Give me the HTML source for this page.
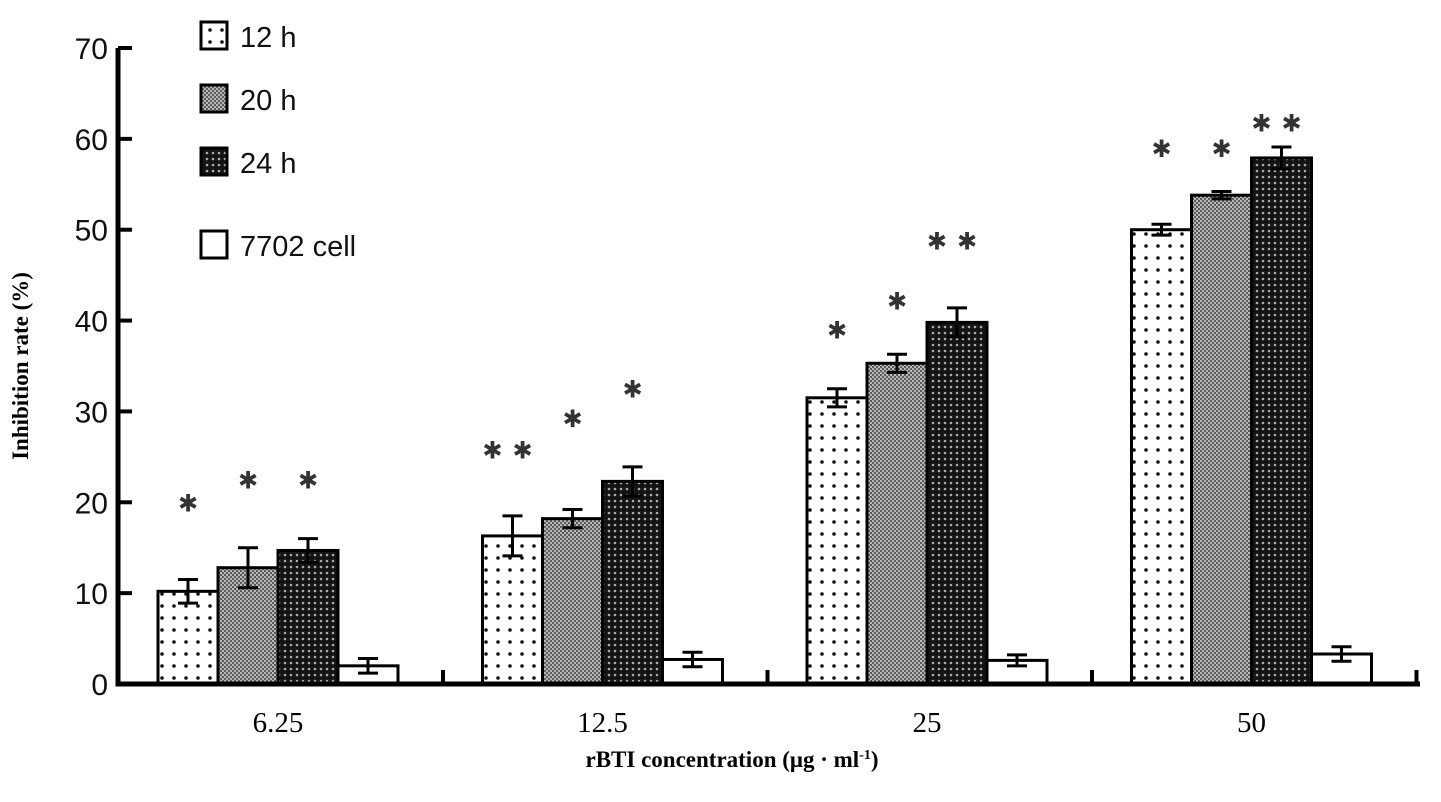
<!DOCTYPE html>
<html><head><meta charset="utf-8"><style>
html,body{margin:0;padding:0;background:#fff;}
svg{display:block;}
</style></head><body>
<svg id="chart" width="1441" height="802" viewBox="0 0 1441 802" xmlns="http://www.w3.org/2000/svg">
<defs>
<pattern id="p12" width="12" height="12" patternUnits="userSpaceOnUse"><rect width="12" height="12" fill="#fff"/><circle cx="6" cy="6" r="1.8" fill="#111"/></pattern>
<pattern id="p20" width="4" height="4" patternUnits="userSpaceOnUse"><rect width="4" height="4" fill="#5a5a5a"/><rect width="2" height="2" fill="#b8b8b8"/><rect x="2" y="2" width="2" height="2" fill="#b8b8b8"/></pattern>
<pattern id="p24" width="6" height="6" patternUnits="userSpaceOnUse"><rect width="6" height="6" fill="#141414"/><circle cx="3" cy="3" r="1.3" fill="#aaa"/></pattern>
</defs>
<g id="plot"></g>
</svg>
<script>
const categories=["6.25","12.5","25","50"];
const seriesNames=["12 h","20 h","24 h","7702 cell"];
const s12=[10.2,16.3,31.5,50.0];
const s20=[12.8,18.2,35.3,53.8];
const s24=[14.7,22.3,39.8,57.9];
const s7702=[2.0,2.7,2.6,3.3];
const e12=[1.3,2.2,1.0,0.6];
const e20=[2.2,1.0,1.0,0.4];
const e24=[1.3,1.6,1.6,1.2];
const e7702=[0.8,0.8,0.6,0.8];
const starText=[["✱","✱","✱"],["✱✱","✱","✱"],["✱","✱","✱✱"],["✱","✱","✱✱"]];
const starValue=[[20,22.5,22.5],[25.8,29.3,32.5],[39,42.2,48.8],[59,59,61.8]];
const yTicks=[0,10,20,30,40,50,60,70];

const NS="http://www.w3.org/2000/svg";
const g=document.getElementById('plot');
const y0=684,yTop=48,yMax=70;
const y=v=>y0-(y0-yTop)*v/yMax;
const xL=118,xR=1420,groupW=324.5,barW=60;
const gx=i=>158+i*groupW;
const SANS='font-family:"Liberation Sans",sans-serif;';
const SERIF='font-family:"Liberation Serif",serif;';
function el(t,a,p){const e=document.createElementNS(NS,t);for(const k in a)e.setAttribute(k,a[k]);(p||g).appendChild(e);return e;}
const series=[s12,s20,s24,s7702],errs=[e12,e20,e24,e7702],fills=["url(#p12)","url(#p20)","url(#p24)","#fff"];
const keys=["12h","20h","24h","7702"];
for(let i=0;i<4;i++){
 for(let s=0;s<4;s++){
  const x=gx(i)+s*barW,v=series[s][i];
  const r=el('rect',{x:x,y:y(v),width:barW,height:y0-y(v),fill:fills[s],stroke:'#000','stroke-width':3});
  
  
  const cx=x+barW/2,eh=y(v+errs[s][i]),el2=y(v-errs[s][i]);
  const p=el('path',{d:`M${cx},${eh}V${el2}M${cx-10},${eh}H${cx+10}M${cx-10},${el2}H${cx+10}`,stroke:'#000','stroke-width':3,fill:'none'});
  
  
  if(s<3){
   const t=el('text',{x:cx,y:y(starValue[i][s])+9,'text-anchor':'middle','font-size':24,fill:'#333','letter-spacing':starText[i][s].length>1?10:0,style:'font-family:"DejaVu Sans",sans-serif;'});
   t.textContent=starText[i][s];
   
   
  }
 }
 const lt=el('text',{x:gx(i)+2*barW,y:732,'text-anchor':'middle','font-size':29,style:SERIF});
 lt.textContent=categories[i];
 
 
 const tx=gx(i)+285;
 const tk=el('line',{x1:tx,y1:y0,x2:tx,y2:y0-14,stroke:'#000','stroke-width':4});
 
 
}
const ax=el('path',{d:`M${xL},${yTop}V${y0}H${xR}`,stroke:'#000','stroke-width':5,fill:'none'});


yTicks.forEach(v=>{
 const l=el('line',{x1:xL,y1:y(v),x2:xL+14,y2:y(v),stroke:'#000','stroke-width':4});
 
 
 const t=el('text',{x:108,y:y(v)+11,'text-anchor':'end','font-size':30,fill:'#111',style:SANS});
 t.textContent=v;
 
 
});
const yt=el('text',{transform:'translate(28,366) rotate(-90)','text-anchor':'middle','font-size':23,'font-weight':'bold',style:SERIF});
yt.textContent='Inhibition rate (%)';


const xt=el('text',{x:732,y:767,'text-anchor':'middle','font-size':23,'font-weight':'bold',style:SERIF});
xt.innerHTML='rBTI concentration (μg · ml<tspan font-size="14" dy="-8">-1</tspan><tspan dy="8">)</tspan>';


const legY=[22,85,148,231];
for(let s=0;s<4;s++){
 const r=el('rect',{x:201,y:legY[s],width:26,height:27,fill:fills[s],stroke:'#000','stroke-width':3});
 
 
 const t=el('text',{x:240,y:legY[s]+25,'font-size':29,fill:'#111',style:SANS});
 t.textContent=seriesNames[s];
 
 
}
</script>
</body></html>
